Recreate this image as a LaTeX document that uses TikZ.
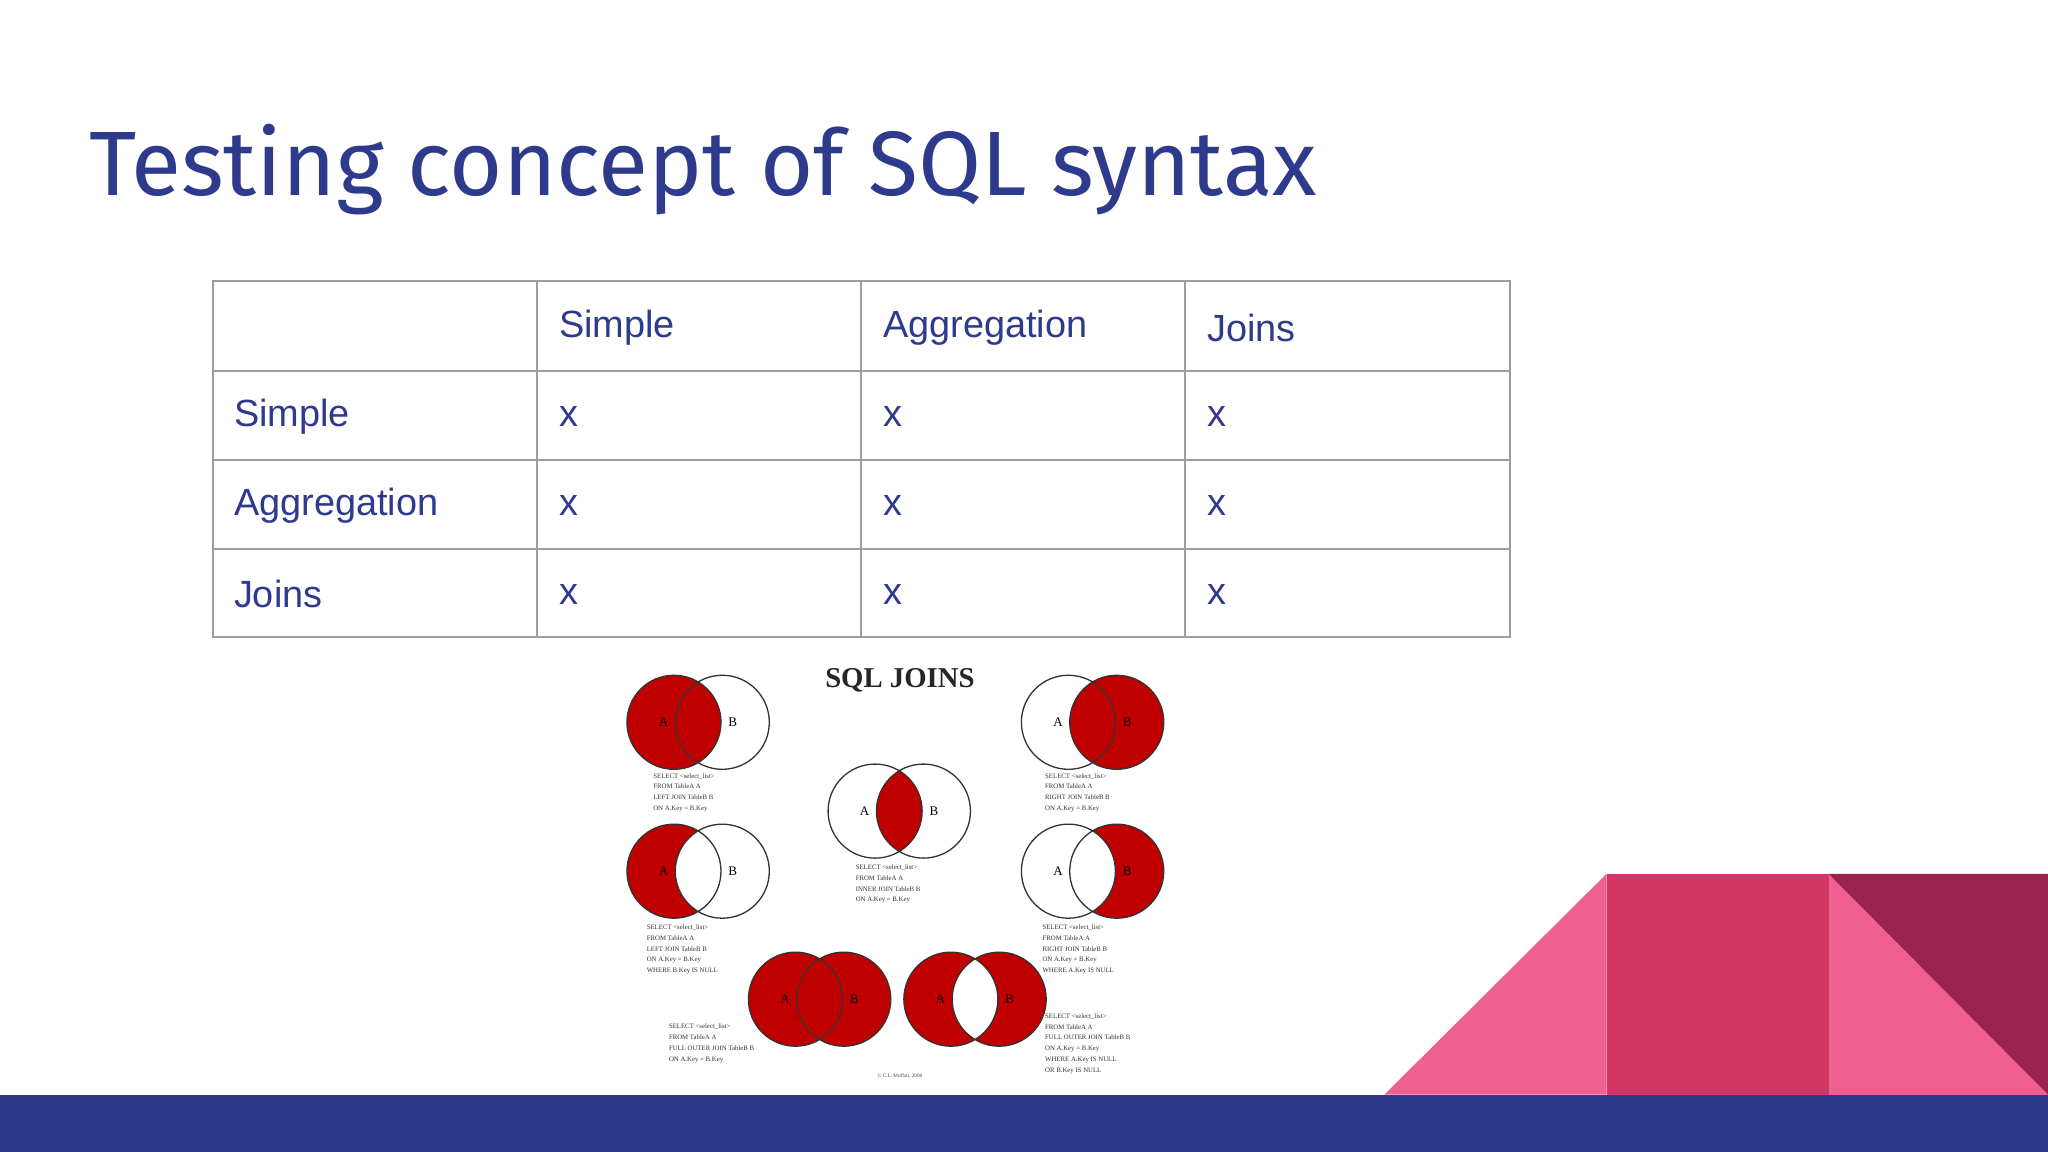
\documentclass[tikz,border=0pt]{standalone}
\usepackage{fontspec}
\setmainfont{Liberation Serif}
\newfontfamily\ttl{Fira Sans}
\newfontfamily\ars{Liberation Sans}
\definecolor{navy}{HTML}{2E3A8C}
\definecolor{jred}{HTML}{C00000}
\definecolor{pinkA}{HTML}{EF5F8F}
\definecolor{pinkB}{HTML}{D33565}
\definecolor{pinkC}{HTML}{9A2350}
\definecolor{gridg}{HTML}{9E9E9E}
\tikzset{cell/.style={anchor=west,font=\ars\fontsize{29}{32}\selectfont,text=navy,inner sep=0},
 sqlcap/.style={anchor=north west,align=left,font=\fontsize{5.2}{8.2}\selectfont,inner sep=0,text=black!80},
 vl/.style={font=\fontsize{10}{10}\selectfont,inner sep=0}}
\newcommand\vleft[2]{\fill[jred] (#1,#2) circle (36);}
\newcommand\vright[2]{\fill[jred] (#1+37,#2) circle (36);}
\newcommand\vinner[2]{\begin{scope}\clip (#1,#2) circle (36); \fill[jred] (#1+37,#2) circle (36);\end{scope}}
\newcommand\vwhite[2]{\begin{scope}\clip (#1,#2) circle (36); \fill[white] (#1+37,#2) circle (36);\end{scope}}
\newcommand\vlines[2]{\draw[line width=1pt,black!80] (#1,#2) circle (36) (#1+37,#2) circle (36);
 \node[vl] at (#1-8,#2) {A}; \node[vl] at (#1+45,#2) {B};}
\begin{document}
\begin{tikzpicture}[x=1pt,y=-1pt]
\useasboundingbox (0,0) rectangle (1568,882);
\fill[white] (0,0) rectangle (1568,882);
\node[anchor=base west,inner sep=0,text=navy,font=\ttl\fontsize{70}{80}\selectfont] (title) at (68,150) {Testing concept of SQL syntax};
% table
\draw[gridg,line width=1.6pt] (163,215) rectangle (1156,488);
\foreach \y in {284,352,420} \draw[gridg,line width=1.6pt] (163,\y) -- (1156,\y);
\foreach \x in {411,659,907} \draw[gridg,line width=1.6pt] (\x,215) -- (\x,488);
\node[cell] (h1) at (428,251) {Simple};
\node[cell] (h2) at (676,251) {Aggregation};
\node[cell] (h3) at (924,251) {Joins};
\node[cell] (r1) at (179,319) {Simple};
\node[cell] (r2) at (179,387) {Aggregation};
\node[cell] (r3) at (179,455) {Joins};
\foreach \y/\r in {319/a,387/b,455/c}{
 \node[cell] (x\r1) at (428,\y) {x};
 \node[cell] (x\r2) at (676,\y) {x};
 \node[cell] (x\r3) at (924,\y) {x};}
% venn image
\node[font=\bfseries\fontsize{22}{22}\selectfont,inner sep=0,text=black!85] (sj) at (689,521) {SQL JOINS};
\vleft{516}{553}\vlines{516}{553}
\vright{818}{553}\vlines{818}{553}
\vinner{670}{621}\vlines{670}{621}
\vleft{516}{667}\vwhite{516}{667}\vlines{516}{667}
\vright{818}{667}\vwhite{818}{667}\vlines{818}{667}
\vleft{609}{765}\vright{609}{765}\vlines{609}{765}
\vleft{728}{765}\vright{728}{765}\vwhite{728}{765}\vlines{728}{765}
\node[sqlcap] (c1) at (500,592) {SELECT <select\_list>\\FROM TableA A\\LEFT JOIN TableB B\\ON A.Key = B.Key};
\node[sqlcap] (c2) at (800,592) {SELECT <select\_list>\\FROM TableA A\\RIGHT JOIN TableB B\\ON A.Key = B.Key};
\node[sqlcap] (c3) at (655,662) {SELECT <select\_list>\\FROM TableA A\\INNER JOIN TableB B\\ON A.Key = B.Key};
\node[sqlcap] (c4) at (495,708) {SELECT <select\_list>\\FROM TableA A\\LEFT JOIN TableB B\\ON A.Key = B.Key\\WHERE B.Key IS NULL};
\node[sqlcap] (c5) at (798,708) {SELECT <select\_list>\\FROM TableA A\\RIGHT JOIN TableB B\\ON A.Key = B.Key\\WHERE A.Key IS NULL};
\node[sqlcap] (c6) at (512,784) {SELECT <select\_list>\\FROM TableA A\\FULL OUTER JOIN TableB B\\ON A.Key = B.Key};
\node[sqlcap] (c7) at (800,776) {SELECT <select\_list>\\FROM TableA A\\FULL OUTER JOIN TableB B\\ON A.Key = B.Key\\WHERE A.Key IS NULL\\OR B.Key IS NULL};
\node[font=\fontsize{4}{4}\selectfont,inner sep=0,text=black!70] (cr) at (689,824) {© C.L. Moffatt, 2008};
% decorations
\fill[pinkA] (1060,838) -- (1230,669) -- (1230,838) -- cycle;
\fill[pinkB] (1230,669) rectangle (1400,838);
\fill[pinkA] (1400,669) rectangle (1568,838);
\fill[pinkC] (1400,669) -- (1568,669) -- (1568,838) -- cycle;
\fill[navy] (0,838) rectangle (1568,882);
\end{tikzpicture}
\end{document}
